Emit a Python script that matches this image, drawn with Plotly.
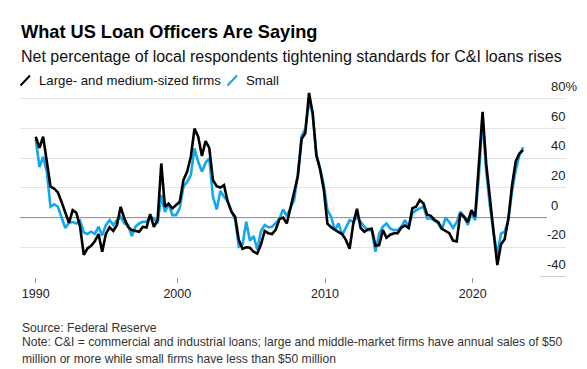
import pandas as pd
import plotly.graph_objects as go

# ---- data (net % of respondents tightening standards, quarterly survey) ----
large_medium = [54.5, 47, 54.5, 38, 21, 19.5, 17, 10.5, 4, -3.5,
                5, 3.3, -6, -25, -20.8, -19, -16, -11, -23, -11,
                -6.6, -9, -5, 7.3, -0.6, -6.2, -8.4, -9, -9.5, -6.2,
                -6.6, 2.4, -6.2, -1.7, 36.5, 7.3, 9.5, 6.2, 8.4, 10.7,
                25.3, 31, 41, 60, 54.5, 41.5, 51.6, 47, 25.3, 21.2,
                20.3, 21.9, 10.7, 3.9, 0.6, -15, -21, -20, -20.3, -23,
                -24.2, -18, -9, -10.5, -11.1, -8, -1, 0, -4, 7,
                18, 28, 53, 57, 84, 70.5, 42, 32.5, 19, -4,
                -6.5, -8.3, -9.8, -11, -15, -21, -4, 6, -7, -9.5,
                -7.8, -7.5, -19, -18.5, -8.4, -13.5, -11.5, -10.5, -10.5, -6.8,
                -5.3, -7, 6.4, 7.3, 11.8, 9.5, 2, 1.2, -1.5, -3,
                -7.5, -9, -10.5, -15.5, -16, 2.8, 0.6, -3, 5, 0.6,
                35, 71.3, 36, 12, -10, -32, -18, -14.5, -0.6, 22,
                38, 43.2, 45.5]
small = [53, 34, 41, 31, 7.3, 9, 7.3, 0.6, -7, -3.5,
         -3, -4, -2, -10, -11, -9.5, -11, -6.2, -12, -5,
         -1.7, -5, -1.7, 0.6, -3.9, -5, -12.5, -6.2, -3.9, -2.8,
         -2.8, 0.6, -0.6, -3.9, 15.2, 3.9, 9.1, 1.7, 1.7, 6.2,
         20.8, 24.2, 28.6, 46.6, 37.6, 31, 37, 40, 14, 5.5,
         18, 14, 11, 4.5, -1.5, -19.5, -18, -2.8, -15.5, -12.5,
         -21.5, -9, -5, -6.5, -6.2, -3.5, -0.8, 5.5, 1, 6.5,
         12, 30, 55, 60, 78, 70.2, 42.5, 33, 22, 5,
         0.6, -8.4, -3.9, -11.8, -6.2, -1.7, -2.8, 0.6, -2.8, -6.2,
         -8.4, -8.4, -23, -10.7, -6.2, -3.9, -7.3, -8.4, -8.4, -6.2,
         -1.7, -6.2, 2.8, 5, 6.2, 7.3, -0.6, -0.6, -2, -4,
         -8, -0.1, -3, -7, -3, 4, 0.5, -5, 3.3, -1.7,
         28, 67, 31, 8, -10, -25.3, -10.7, -9.5, -1.7, 18,
         32, 42, 47.4]
dates = pd.date_range("1990-06-01", periods=len(large_medium), freq="3MS")

x_tick_labels = ["1990", "2000", "2010", "2020"]
x_tick_vals = [dates[0], pd.Timestamp("2000-01-01"), pd.Timestamp("2010-01-01"), pd.Timestamp("2020-01-01")]
y_tick_vals = [80, 60, 40, 20, 0, -20, -40]
y_tick_text = ["80%", "60", "40", "20", "0", "-20", "-40"]

title = "What US Loan Officers Are Saying"
subtitle = "Net percentage of local respondents tightening standards for C&I loans rises"
legend_names = ["Large- and medium-sized firms", "Small"]
source = "Source: Federal Reserve"
note1 = "Note: C&I = commercial and industrial loans; large and middle-market firms have annual sales of $50"
note2 = "million or more while small firms have less than $50 million"

# ---- layout geometry ----
W, H = 587, 369
L, R, T, B = 20, 21, 90, 92
PW, PH = W - L - R, H - T - B
FONT = "Liberation Sans, Arial, Helvetica, sans-serif"
BLACK = "#000000"
BLUE = "#12a7ee"


def px(xp):
    return (xp - L) / PW


def py(yp):
    return (H - B - yp) / PH


# x range: 2000 at 177.3 px, 2020 at 472.7 px
ppd = (472.7 - 177.3) / (pd.Timestamp("2020-01-01") - pd.Timestamp("2000-01-01")).days
x_left = pd.Timestamp("2000-01-01") - pd.Timedelta(days=(177.3 - L) / ppd)
x_right = pd.Timestamp("2020-01-01") + pd.Timedelta(days=(W - R - 472.7) / ppd)
y_range = [-40, 86]

fig = go.Figure()
fig.add_trace(go.Scatter(x=dates, y=small, mode="lines", name=legend_names[1],
                         line=dict(color=BLUE, width=2.6), yaxis="y"))
fig.add_trace(go.Scatter(x=dates, y=large_medium, mode="lines", name=legend_names[0],
                         line=dict(color=BLACK, width=2.6), yaxis="y2"))

fig.update_layout(
    width=W, height=H, autosize=False,
    margin=dict(l=L, r=R, t=T, b=B),
    paper_bgcolor="white", plot_bgcolor="white",
    showlegend=False,
    font=dict(family=FONT, color="#222"),
    xaxis=dict(type="date", range=[x_left, x_right], tickvals=x_tick_vals, ticktext=x_tick_labels,
               ticks="outside", ticklen=5, tickcolor="#9a9a9a", tickwidth=1,
               showgrid=False, zeroline=False, showline=False,
               tickfont=dict(size=12.5, color="#222", family=FONT)),
    yaxis=dict(range=y_range, tickvals=[80, 60, 40, 20, -20], showticklabels=False,
               showgrid=True, gridcolor="#e3e3e3", gridwidth=1, zeroline=False, ticks=""),
    yaxis2=dict(range=y_range, overlaying="y", showticklabels=False, showgrid=False,
                zeroline=False, ticks="", side="right"),
)

shapes = []
# zero line (darker, stops before the labels)
shapes.append(dict(type="line", xref="paper", yref="y", x0=0, x1=px(547), y0=0, y1=0,
                   line=dict(color="#8a8a8a", width=1), layer="below"))
# short bottom rule under the -40 label
shapes.append(dict(type="line", xref="paper", yref="y", x0=px(540), x1=1, y0=-40, y1=-40,
                   line=dict(color="#9a9a9a", width=1)))
# legend slashes
for x0, col in [(20.5, BLACK), (227.5, BLUE)]:
    shapes.append(dict(type="line", xref="paper", yref="paper",
                       x0=px(x0), x1=px(x0 + 9.5), y0=py(85.5), y1=py(75.5),
                       line=dict(color=col, width=2)))
fig.update_layout(shapes=shapes)

ann = []
ann.append(dict(text="<b>" + title + "</b>", x=px(19), y=py(31.5), xref="paper", yref="paper",
                xanchor="left", yanchor="middle", showarrow=False,
                font=dict(size=18.2, color="#000", family=FONT)))
ann.append(dict(text=subtitle, x=px(19), y=py(56.5), xref="paper", yref="paper",
                xanchor="left", yanchor="middle", showarrow=False,
                font=dict(size=16, color="#111", family=FONT)))
ann.append(dict(text=legend_names[0], x=px(36.5), y=py(80.5), xref="paper", yref="paper",
                xanchor="left", yanchor="middle", showarrow=False,
                font=dict(size=13.2, color="#111", family=FONT)))
ann.append(dict(text=legend_names[1], x=px(243.5), y=py(80.5), xref="paper", yref="paper",
                xanchor="left", yanchor="middle", showarrow=False,
                font=dict(size=13.2, color="#111", family=FONT)))
for v, t in zip(y_tick_vals, y_tick_text):
    ann.append(dict(text=t, x=px(549), y=v, xref="paper", yref="y",
                    xanchor="left", yanchor="bottom", yshift=3, xshift=-4 if v < 0 else 0,
                    showarrow=False, font=dict(size=13, color="#222", family=FONT)))
for txt, yy in [(source, 327.5), (note1, 342), (note2, 358.5)]:
    ann.append(dict(text=txt, x=px(19.5), y=py(yy), xref="paper", yref="paper",
                    xanchor="left", yanchor="middle", showarrow=False,
                    font=dict(size=12.1, color="#333", family=FONT)))
fig.update_layout(annotations=ann)

fig.write_html("out.html", config={"displayModeBar": False},
               post_script="document.body.style.margin='0';")
